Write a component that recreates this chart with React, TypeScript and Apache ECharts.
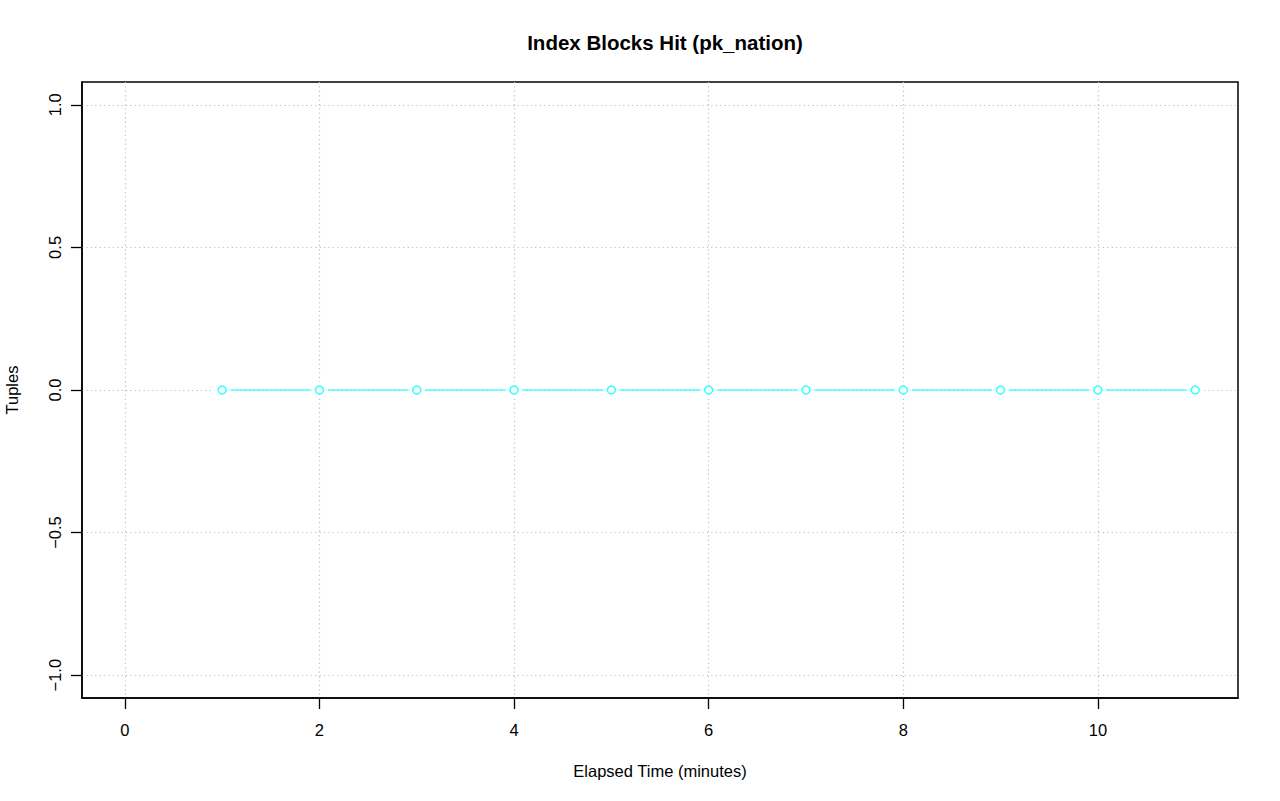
import React, { useEffect, useRef } from "react";
import * as echarts from "echarts";

const xValues = [1, 2, 3, 4, 5, 6, 7, 8, 9, 10, 11];
const yValues = [0, 0, 0, 0, 0, 0, 0, 0, 0, 0, 0];
const xTicks = [0, 2, 4, 6, 8, 10];
const yTicks = [-1, -0.5, 0, 0.5, 1];
const xRange = [-0.44, 11.44];
const yRange = [-1.08, 1.08];
const title = "Index Blocks Hit (pk_nation)";
const xLabel = "Elapsed Time (minutes)";
const yLabel = "Tuples";

const FONT = "'Liberation Sans', Arial, Helvetica, sans-serif";

export default function App() {
  const ref = useRef<HTMLDivElement>(null);
  useEffect(() => {
    if (!ref.current) return;
    const chart = echarts.init(ref.current, null, { renderer: "svg" });
    const pts = xValues.map((x, i) => [x, yValues[i]]);
    const fmtY = (v: number) => v.toFixed(1).replace("-", "\u2212");
    const gridLine = { show: true, lineStyle: { color: "#bdbdbd", type: [1.2, 3.2], width: 1.2 } };
    chart.setOption({
      animation: false,
      backgroundColor: "#ffffff",
      title: {
        text: title,
        left: 660,
        top: 27,
        textAlign: "center",
        textStyle: { fontFamily: FONT, fontSize: 20.5, fontWeight: "bold", color: "#000" },
      },
      grid: {
        left: 82,
        right: 42,
        top: 82,
        bottom: 103,
        containLabel: false,
        outerBoundsMode: "none",
        show: true,
        borderColor: "#000",
        borderWidth: 1.5,
        backgroundColor: "transparent",
      },
      xAxis: {
        type: "value",
        position: "bottom",
        min: xRange[0],
        max: xRange[1],
        name: xLabel,
        nameLocation: "middle",
        nameGap: 64,
        nameTextStyle: { fontFamily: FONT, fontSize: 16.5, color: "#000" },
        axisLine: { show: true, onZero: false, lineStyle: { color: "#000", width: 1.5 } },
        axisTick: {
          show: true,
          inside: false,
          length: 11,
          customValues: xTicks,
          lineStyle: { color: "#000", width: 1.3 },
        },
        axisLabel: {
          customValues: xTicks,
          margin: 23,
          fontFamily: FONT,
          fontSize: 16.5,
          color: "#000",
        },
        splitLine: gridLine,
      },
      yAxis: {
        type: "value",
        position: "left",
        min: yRange[0],
        max: yRange[1],
        name: yLabel,
        nameLocation: "middle",
        nameGap: 62,
        nameRotate: 90,
        nameTextStyle: { fontFamily: FONT, fontSize: 16.5, color: "#000" },
        axisLine: { show: true, onZero: false, lineStyle: { color: "#000", width: 1.5 } },
        axisTick: {
          show: true,
          inside: false,
          length: 11,
          customValues: yTicks,
          lineStyle: { color: "#000", width: 1.3 },
        },
        axisLabel: {
          customValues: yTicks,
          rotate: 90,
          margin: 19,
          fontFamily: FONT,
          fontSize: 16.5,
          color: "#000",
          formatter: fmtY,
        },
        splitLine: gridLine,
      },
      series: [
        {
          type: "line",
          data: pts,
          showSymbol: false,
          lineStyle: { color: "#00ffff", width: 1 },
          z: 2,
        },
        {
          type: "scatter",
          data: pts,
          symbol: "circle",
          symbolSize: 17,
          itemStyle: { color: "#ffffff" },
          silent: true,
          z: 3,
        },
        {
          type: "scatter",
          data: pts,
          symbol: "circle",
          symbolSize: 8,
          itemStyle: { color: "#ffffff", borderColor: "#00ffff", borderWidth: 1.5 },
          z: 4,
        },
      ],
    });
    return () => chart.dispose();
  }, []);
  return (
    <div
      ref={ref}
      style={{ position: "fixed", left: 0, top: 0, width: 1280, height: 801 }}
    />
  );
}
